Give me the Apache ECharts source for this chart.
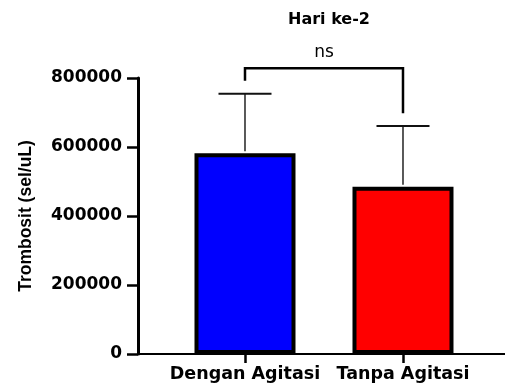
<!DOCTYPE html>
<html><head><meta charset="utf-8">
<script src="https://cdn.jsdelivr.net/npm/echarts@6/dist/echarts.min.js"></script>
<style>html,body{margin:0;padding:0;background:#fff}#c{width:505px;height:388px}</style>
</head><body><div id="c"></div>
<script>
const chartTitle = 'Hari ke-2';
const categories = ['Dengan Agitasi', 'Tanpa Agitasi'];
const means = [582000, 485000];
const sds = [172000, 176000];
const barColors = ['#0000ff', '#ff0000'];
const yTicks = [0, 200000, 400000, 600000, 800000];
const yName = 'Trombosit (sel/uL)';
const sigLabel = 'ns';
const bracketTop = 828000;
const bracketLegs = [792000, 698000];

const positions = categories.map((c, i) => i + 1);
const chart = echarts.init(document.getElementById('c'), null, { renderer: 'canvas' });
const hFont = 'DejaVu Sans';

chart.setOption({
  animation: false,
  backgroundColor: '#fff',
  title: {
    text: chartTitle,
    left: 324,
    textAlign: 'center',
    top: 7,
    textStyle: { fontFamily: hFont, fontWeight: 'bold', fontSize: 16, color: '#000' }
  },
  grid: { left: 138, right: 0, top: 78, bottom: 34, containLabel: false },
  xAxis: {
    type: 'value',
    min: 0.3228,
    max: 2.6456,
    splitLine: { show: false },
    axisLine: { show: true, lineStyle: { color: '#000', width: 2 } },
    axisTick: { show: true, customValues: positions, length: 9, lineStyle: { color: '#000', width: 2.5 } },
    axisLabel: {
      customValues: positions,
      formatter: v => categories[Math.round(v) - 1] || '',
      margin: 11,
      fontFamily: hFont, fontWeight: 'bold', fontSize: 17.5, color: '#000'
    }
  },
  yAxis: {
    type: 'value',
    min: yTicks[0],
    max: yTicks[yTicks.length - 1],
    interval: yTicks[1] - yTicks[0],
    name: yName,
    nameLocation: 'middle',
    nameGap: 103,
    nameTextStyle: { fontFamily: 'Liberation Sans', fontWeight: 'bold', fontSize: 17.5, color: '#000' },
    splitLine: { show: false },
    axisLine: { show: true, lineStyle: { color: '#000', width: 3 } },
    axisTick: { show: true, length: 11, lineStyle: { color: '#000', width: 2.5 } },
    axisLabel: { margin: 16, formatter: v => String(v), fontFamily: hFont, fontWeight: 'bold', fontSize: 17, color: '#000' }
  },
  series: [
    {
      type: 'bar',
      barWidth: 101,
      z: 2,
      data: positions.map((p, i) => ({
        value: [p, means[i]],
        itemStyle: { color: barColors[i], borderColor: '#000', borderWidth: 4 }
      }))
    },
    {
      type: 'custom',
      z: 3,
      clip: false,
      encode: { x: 0, y: [1, 2] },
      data: positions.map((p, i) => [p, means[i], means[i] + sds[i]]),
      renderItem: function (params, api) {
        const x = api.value(0);
        const p0 = api.coord([x, api.value(1)]);
        const p1 = api.coord([x, api.value(2)]);
        return {
          type: 'group',
          children: [
            { type: 'line', shape: { x1: p0[0], y1: p0[1] - 2, x2: p1[0], y2: p1[1] }, style: { stroke: '#000', lineWidth: 1.3 } },
            { type: 'line', shape: { x1: p1[0] - 26.5, y1: p1[1], x2: p1[0] + 26.5, y2: p1[1] }, style: { stroke: '#111', lineWidth: 2 } }
          ]
        };
      }
    },
    {
      type: 'custom',
      z: 4,
      clip: false,
      encode: { x: [0, 1], y: [2, 3, 4] },
      data: [[positions[0], positions[1], bracketTop, bracketLegs[0], bracketLegs[1]]],
      renderItem: function (params, api) {
        const a = api.coord([api.value(0), api.value(3)]);
        const b = api.coord([api.value(0), api.value(2)]);
        const c = api.coord([api.value(1), api.value(2)]);
        const d = api.coord([api.value(1), api.value(4)]);
        return {
          type: 'group',
          children: [
            { type: 'polyline', shape: { points: [a, b, c, d] }, style: { stroke: '#000', lineWidth: 2.5, fill: null } },
            { type: 'text', x: (b[0] + c[0]) / 2, y: b[1] - 16, style: { text: sigLabel, align: 'center', verticalAlign: 'middle', fontFamily: hFont, fontSize: 17, fill: '#000' } }
          ]
        };
      }
    }
  ]
});
</script></body></html>
